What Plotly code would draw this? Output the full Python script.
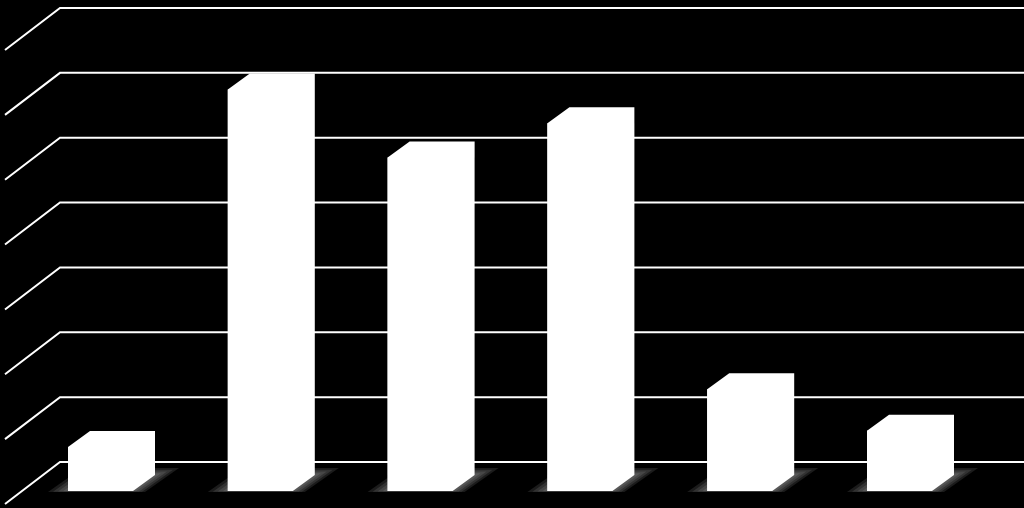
import plotly.graph_objects as go

# ---- data (no labels are shown in the reference) ----
categories = ["1", "2", "3", "4", "5", "6"]
values = [0.68, 6.19, 5.14, 5.67, 1.57, 0.93]
grid_levels = [0, 1, 2, 3, 4, 5, 6, 7]

# ---- layout / projection constants (pixels) ----
W, H = 1024, 508
PX_PER_CAT = 159.8
PX_PER_UNIT = 64.86
X0_PX = 100.5   # pixel x of first category centre (front plane)
Y0_PX = 491.0   # pixel y of value 0 (front plane)


def dxp(p):
    return p / PX_PER_CAT


def dyp(p):
    return p / PX_PER_UNIT


x_range = [-X0_PX / PX_PER_CAT, (W - X0_PX) / PX_PER_CAT]
y_range = [-(H - Y0_PX) / PX_PER_UNIT, Y0_PX / PX_PER_UNIT]

bar_w = dxp(65)
bd_x, bd_y = dxp(22), dyp(16)        # bar depth offset
wall_x, wall_y = dxp(38), dyp(29)    # back wall offset from front plane
diag_x, diag_y = dxp(55), dyp(42)    # floor/side wall depth
wall_left = dxp(60 - X0_PX)

xs = list(range(len(categories)))

fig = go.Figure()

# back-wall gridlines with side-wall diagonals
gx, gy = [], []
for k in grid_levels:
    yk = k + wall_y
    gx += [wall_left - diag_x, wall_left, x_range[1] + 1, None]
    gy += [yk - diag_y, yk, yk, None]
fig.add_trace(go.Scatter(x=gx, y=gy, mode="lines",
                         line=dict(color="white", width=2),
                         hoverinfo="skip", showlegend=False))

# soft floor shadows
for i in xs:
    xl, xr = i - bar_w / 2, i + bar_w / 2
    for e in [20, 15, 10, 5]:
        ex = dxp(e)
        ey = dyp(e * 0.35)
        sx = [xl - ex, xr + ex * 0.6, xr + bd_x + ex * 1.2, xl + bd_x - ex * 0.4, xl - ex]
        sy = [-ey * 0.15, -ey * 0.15, bd_y + ey, bd_y + ey, -ey * 0.15]
        fig.add_trace(go.Scatter(x=sx, y=sy, mode="lines", fill="toself",
                                 fillcolor="rgba(210,210,210,0.13)",
                                 line=dict(width=0, color="rgba(0,0,0,0)"),
                                 hoverinfo="skip", showlegend=False))

# full silhouette of each 3D column (front + top + side)
for i, v in zip(xs, values):
    xl, xr = i - bar_w / 2, i + bar_w / 2
    px_ = [xl, xl, xl + bd_x, xr + bd_x, xr + bd_x, xr, xl]
    py_ = [0, v, v + bd_y, v + bd_y, bd_y, 0, 0]
    fig.add_trace(go.Scatter(x=px_, y=py_, mode="lines", fill="toself",
                             fillcolor="white",
                             line=dict(width=0, color="white"),
                             hoverinfo="skip", showlegend=False))

# front faces
fig.add_trace(go.Bar(x=xs, y=values, width=bar_w,
                     marker=dict(color="white", line=dict(width=0)),
                     hovertext=categories, showlegend=False))

fig.update_layout(
    width=W, height=H,
    margin=dict(l=0, r=0, t=0, b=0),
    paper_bgcolor="black", plot_bgcolor="black",
    xaxis=dict(range=x_range, visible=False, fixedrange=True),
    yaxis=dict(range=y_range, visible=False, fixedrange=True),
    showlegend=False,
)

fig.write_html(
    "out.html",
    config={"displayModeBar": False},
    post_script="document.body.style.margin='0';"
                "document.body.style.background='black';"
                "document.body.style.overflow='hidden';",
)
